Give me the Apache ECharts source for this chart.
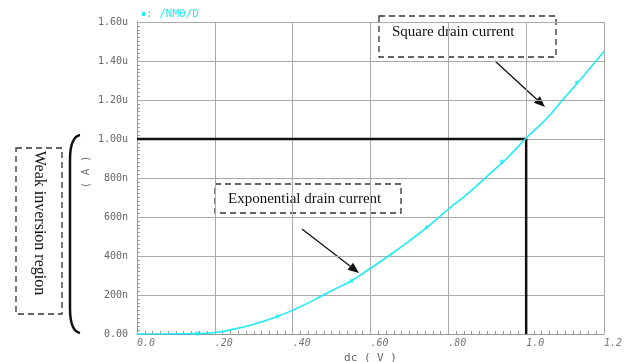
<!DOCTYPE html>
<html>
<head>
<meta charset="utf-8">
<script src="https://cdn.jsdelivr.net/npm/echarts@6/dist/echarts.min.js"></script>
<style>
  html, body { margin: 0; padding: 0; background: #fff; }
  #chart { width: 626px; height: 362px; }
</style>
</head>
<body>
<div id="chart"></div>
<script>
// dc sweep (V) and drain current (uA)
var vgs = [0, 0.05, 0.1, 0.15, 0.2, 0.25, 0.3, 0.35, 0.4, 0.45, 0.5, 0.55, 0.6,
           0.65, 0.7, 0.75, 0.8, 0.85, 0.9, 0.95, 1.0, 1.05, 1.1, 1.15, 1.2];
var idrain = [0, 0, 0.0005, 0.002, 0.008, 0.025, 0.05, 0.082, 0.122, 0.17, 0.222, 0.272, 0.337,
              0.405, 0.478, 0.555, 0.64, 0.72, 0.81, 0.9, 1.005, 1.1, 1.215, 1.33, 1.45];
// marker points on the trace
var markX = [0.155, 0.36, 0.552, 0.744, 0.937, 1.13];
var markY = [0.002, 0.09, 0.272, 0.546, 0.884, 1.289];
// black guide: 1.00u level and 1.0 V
var guideX = [0, 1.0, 1.0];
var guideY = [1.0, 1.0, 0];

var xTicks = ['0.0', '.20', '.40', '.60', '.80', '1.0', '1.2'];
var yTicks = ['0.00', '200n', '400n', '600n', '800n', '1.00u', '1.20u', '1.40u', '1.60u'];

var cyan = '#1eecf4';
var mono = 'DejaVu Sans Mono';
var serif = 'Liberation Serif';

function pairs(xs, ys) {
  var out = [];
  for (var i = 0; i < xs.length; i++) out.push([xs[i], ys[i]]);
  return out;
}

// line with a filled arrow head at the end
function arrow(x1, y1, x2, y2) {
  var dx = x2 - x1, dy = y2 - y1;
  var len = Math.sqrt(dx * dx + dy * dy);
  var ux = dx / len, uy = dy / len;
  var hl = 11, hw = 4.5;
  var bx = x2 - ux * hl, by = y2 - uy * hl;
  return [
    { type: 'line', shape: { x1: x1, y1: y1, x2: bx, y2: by },
      style: { stroke: '#111', lineWidth: 1.3 } },
    { type: 'polygon',
      shape: { points: [[x2, y2], [bx - uy * hw, by + ux * hw], [bx + uy * hw, by - ux * hw]] },
      style: { fill: '#111' } }
  ];
}

function dashedBox(x, y, w, h) {
  return { type: 'rect', shape: { x: x, y: y, width: w, height: h },
    style: { fill: '#fff', stroke: '#333', lineWidth: 1.3, lineDash: [6, 4] } };
}

var bracketStyle = { fill: null, stroke: '#111', lineWidth: 2.5 };

var graphics = [
  // legend
  { type: 'rect', shape: { x: 142, y: 12, width: 3, height: 4 }, style: { fill: cyan } },
  { type: 'text', x: 146, y: 14, style: { text: ': /NM0/D', fill: cyan, font: '11px ' + mono, textVerticalAlign: 'middle' } },
  // y axis name
  { type: 'text', x: 86, y: 172, rotation: Math.PI / 2,
    style: { text: '( A )', fill: '#777', font: '11px ' + mono, textAlign: 'center', textVerticalAlign: 'middle' } },
  // big bracket
  { type: 'bezierCurve', shape: { x1: 80, y1: 135, cpx1: 70, cpy1: 137, x2: 70, y2: 160 }, style: bracketStyle },
  { type: 'line', shape: { x1: 70, y1: 160, x2: 70, y2: 308 }, style: bracketStyle },
  { type: 'bezierCurve', shape: { x1: 70, y1: 308, cpx1: 70, cpy1: 331, x2: 80, y2: 333 }, style: bracketStyle },
  // weak inversion box
  dashedBox(16, 148, 46, 166),
  { type: 'text', x: 39, y: 223, rotation: -Math.PI / 2,
    style: { text: 'Weak inversion region', fill: '#111', font: '16px ' + serif, textAlign: 'center', textVerticalAlign: 'middle' } },
  // square drain current
  dashedBox(379, 16, 177, 41),
  { type: 'text', x: 392, y: 32, style: { text: 'Square drain current', fill: '#111', font: '15px ' + serif, textVerticalAlign: 'middle' } },
  // exponential drain current
  dashedBox(215, 184, 186, 29),
  { type: 'text', x: 228, y: 199, style: { text: 'Exponential drain current', fill: '#111', font: '15px ' + serif, textVerticalAlign: 'middle' } }
].concat(arrow(495, 61, 545, 107)).concat(arrow(302, 229, 359, 273));

var chart = echarts.init(document.getElementById('chart'), null, { renderer: 'canvas' });
chart.setOption({
  animation: false,
  backgroundColor: '#fff',
  grid: { left: 137, right: 22, top: 22, bottom: 28, outerBoundsMode: 'none', containLabel: false },
  xAxis: {
    type: 'value', min: 0, max: 1.2, interval: 0.2,
    name: 'dc ( V )', nameLocation: 'middle', nameGap: 17,
    nameTextStyle: { color: '#666', fontFamily: mono, fontSize: 11 },
    axisLine: { lineStyle: { color: '#999', width: 1 } },
    axisTick: { show: false, inside: true },
    minorTick: { show: true, splitNumber: 10, length: 3, lineStyle: { color: '#999' } },
    axisLabel: {
      color: '#777', fontFamily: mono, fontSize: 10, fontStyle: 'italic', margin: 4, align: 'left',
      formatter: function (v) { return xTicks[Math.round(v / 0.2)]; }
    },
    splitLine: { show: true, lineStyle: { color: '#aaa', width: 1 } }
  },
  yAxis: {
    type: 'value', min: 0, max: 1.6, interval: 0.2,
    axisLine: { show: true, lineStyle: { color: '#999', width: 1 } },
    axisTick: { show: false, inside: true },
    minorTick: { show: true, splitNumber: 10, length: 3, lineStyle: { color: '#999' } },
    axisLabel: {
      color: '#666', fontFamily: mono, fontSize: 10, margin: 9,
      formatter: function (v) { return yTicks[Math.round(v / 0.2)]; }
    },
    splitLine: { show: true, lineStyle: { color: '#aaa', width: 1 } }
  },
  series: [
    {
      name: 'guide', type: 'line', data: pairs(guideX, guideY), symbol: 'none',
      lineStyle: { color: '#111', width: 2.5 }, z: 3
    },
    {
      name: '/NM0/D', type: 'line', data: pairs(vgs, idrain), smooth: true, symbol: 'none',
      lineStyle: { color: cyan, width: 1.6 }, z: 4
    },
    {
      name: 'marks', type: 'scatter', data: pairs(markX, markY), symbol: 'rect', symbolSize: [3, 4],
      itemStyle: { color: cyan }, z: 5
    }
  ],
  graphic: graphics
});
</script>
</body>
</html>
